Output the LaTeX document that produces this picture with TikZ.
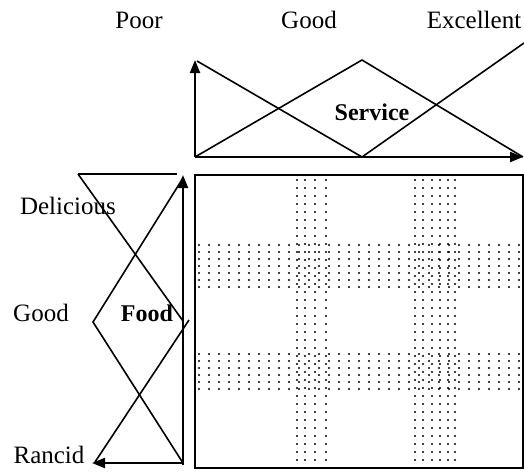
\documentclass[tikz,border=0pt]{standalone}
\usepackage{fontspec}
\setmainfont{Liberation Serif}
\usetikzlibrary{arrows.meta}

\begin{document}
\begin{tikzpicture}[x=1pt,y=-1pt,line width=1.6pt,
    axis/.style={line width=2.2pt,-{Triangle[length=13pt,width=10pt]}},
    lbl/.style={font=\fontsize{25}{29}\selectfont},
    blbl/.style={font=\fontsize{24}{28}\selectfont\bfseries},
    dot/.style={fill=black}]
    \useasboundingbox (0,0) rectangle (524,472);

    % Service: axes and membership functions
    \coordinate (S) at (195,157);
    \coordinate (Smid) at (362,157);
    \coordinate (Send) at (523,157);

    \draw[axis] (S) -- (195,60);
    \draw[axis] (S) -- (Send);

    \draw (197,61) -- (Smid);                 % Poor
    \draw (S) -- (362,60) -- (Send);          % Good
    \draw (Smid) -- (524,43);                 % Excellent

    \node[blbl] (service) at (372,112) {Service};
    \node[lbl] (poor) at (139,20) {Poor};
    \node[lbl] (sgood) at (309,20) {Good};
    \node[lbl] (excellent) at (474,20) {Excellent};

    % Food: axes and membership functions
    \coordinate (F) at (183,465);
    \coordinate (Fmid) at (183,321);

    \draw[axis] (F) -- (183,175);
    \draw[axis] (183,463) -- (92,463);

    \draw (78,174) -- (177,174);              % Delicious
    \draw (78,174) -- (Fmid);
    \draw (183,178) -- (93,322) -- (183,463); % Good
    \draw (95,462) -- (189,320);              % Rancid

    \node[blbl] (food) at (147,313) {Food};
    \node[lbl] (delicious) at (68,206) {Delicious};
    \node[lbl] (fgood) at (41,313) {Good};
    \node[lbl] (rancid) at (49,455) {Rancid};

    % rule grid
    \draw[line width=2.2pt] (195,175) rectangle (523,468);

    % dotted bands
    \foreach \x in {297,305,315,326}
      \foreach \y in {180,188,...,464}
        \fill[dot] (\x,\y) circle (1.1);
    \foreach \x in {415,423,432,440,448,455}
      \foreach \y in {180,188,...,464}
        \fill[dot] (\x,\y) circle (1.1);
    \foreach \y in {245,252,...,287}
      \foreach \x in {199,209,...,520}
        \fill[dot] (\x,\y) circle (1.1);
    \foreach \y in {354,361,...,390}
      \foreach \x in {199,209,...,520}
        \fill[dot] (\x,\y) circle (1.1);
\end{tikzpicture}
\end{document}
